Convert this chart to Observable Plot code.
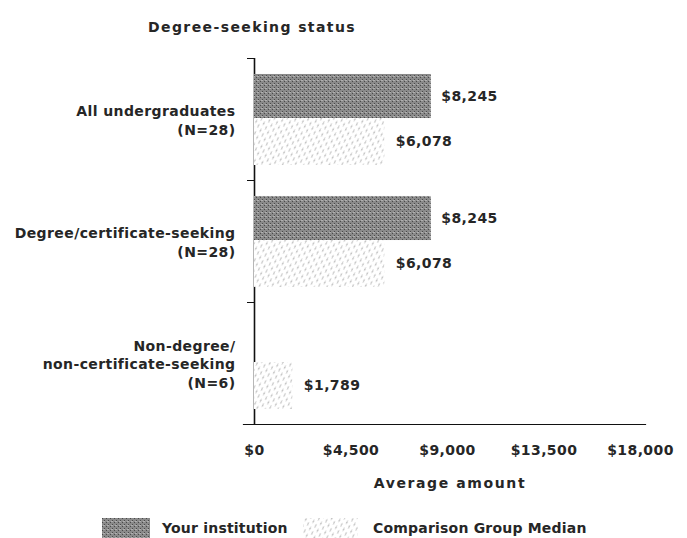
<!DOCTYPE html>
<html><head><meta charset="utf-8">
<script src="https://cdn.jsdelivr.net/npm/d3@7"></script>
<script src="https://cdn.jsdelivr.net/npm/@observablehq/plot@0.6"></script>
<style>
body{margin:0;background:#fff;font-family:"DejaVu Sans",sans-serif;color:#262626;}
#wrap{width:687px;height:538px;position:relative;overflow:hidden;background:#fff}
#title{height:45px;box-sizing:border-box;padding-left:148px;padding-top:18px;font-size:14px;font-weight:bold;letter-spacing:1.4px;line-height:18px}
#chart svg{display:block}
.lg{position:absolute;font-size:14px;font-weight:bold;letter-spacing:0.2px;line-height:20px;top:518px}
.sw{position:absolute;top:518px;height:20px}
</style></head><body>
<div id="wrap">
<div id="title">Degree-seeking status</div>
<div id="chart"></div>
<svg class="sw" style="left:102px" width="48" height="20"><rect width="48" height="20" fill="url(#pInst)"/></svg>
<div class="lg" style="left:162px">Your institution</div>
<svg class="sw" style="left:303px" width="55" height="20"><rect width="55" height="20" fill="url(#pComp)"/></svg>
<div class="lg" style="left:373px">Comparison Group Median</div>
</div>
<script>
const categories = ["All undergraduates", "Degree/certificate-seeking", "Non-degree/\nnon-certificate-seeking"];
const groupCounts = [28, 28, 6];
const institution = [8245, 8245, null];
const comparisonMedian = [6078, 6078, 1789];
const xTicks = [0, 4500, 9000, 13500, 18000];
const xDomain = [0, 18000];
const xTitle = "Average amount";

const money = d => "$" + d3.format(",")(d);
const rows = categories.map((c, i) => ({
  cat: c + "\n(N=" + groupCounts[i] + ")",
  inst: institution[i],
  comp: comparisonMedian[i]
}));

const W = 687, H = 460, mt = 13, mb = 81, ml = 254, mr = 42;
const bw = (H - mt - mb) / categories.length;
const instTop = bw * 0.131, instBottom = bw * 0.508;
const compTop = bw * 0.492, compBottom = bw * 0.123;
const instDy = bw * (0.131 + (1 - 0.131 - 0.508) / 2) - bw / 2;
const compDy = bw * (0.492 + (1 - 0.492 - 0.123) / 2) - bw / 2;

const plot = Plot.plot({
  width: W, height: H,
  marginTop: mt, marginBottom: mb, marginLeft: ml, marginRight: mr,
  style: {fontFamily: "DejaVu Sans", fontSize: "14px", fontWeight: "bold", letterSpacing: "0.4px", color: "#262626", background: "white", overflow: "visible"},
  x: {domain: xDomain, insetRight: 5},
  y: {domain: rows.map(r => r.cat), padding: 0},
  marks: [
    Plot.ruleX([0], {stroke: "#111", strokeWidth: 1.6}),
    Plot.frame({anchor: "bottom", insetLeft: -11, stroke: "#111", strokeWidth: 1.2}),
    Plot.axisY({tickSize: 7, tickFormat: () => "", label: null, dy: -bw / 2, stroke: "#111"}),
    Plot.axisY({tickSize: 0, tickPadding: 19, lineHeight: 1.32, label: null}),
    Plot.axisX({ticks: xTicks, tickSize: 0, tickPadding: 21, tickFormat: money,
      label: xTitle, labelAnchor: "center", labelArrow: "none", labelOffset: 63}),
    Plot.barX(rows.filter(r => r.inst != null), {y: "cat", x: "inst", fill: "url(#pInst)",
      insetTop: instTop, insetBottom: instBottom}),
    Plot.barX(rows, {y: "cat", x: "comp", fill: "url(#pComp)",
      insetTop: compTop, insetBottom: compBottom}),
    Plot.text(rows.filter(r => r.inst != null), {y: "cat", x: "inst", text: d => money(d.inst),
      textAnchor: "start", dx: 10, dy: instDy, fill: "#262626"}),
    Plot.text(rows, {y: "cat", x: "comp", text: d => money(d.comp),
      textAnchor: "start", dx: 11, dy: compDy, fill: "#262626"})
  ]
});
document.getElementById("chart").appendChild(plot);

const svg = d3.select(plot);
svg.selectAll('g[aria-label="x-axis label"]').attr("letter-spacing", "1.6px");
const defs = svg.insert("defs", ":first-child");
const p1 = defs.append("pattern").attr("id", "pInst").attr("width", 4).attr("height", 4)
  .attr("patternUnits", "userSpaceOnUse");
p1.append("rect").attr("width", 4).attr("height", 4).attr("fill", "#8a8a8a");
p1.append("rect").attr("x", 0).attr("y", 0).attr("width", 1).attr("height", 1).attr("fill", "#4a4a4a");
p1.append("rect").attr("x", 2).attr("y", 2).attr("width", 1).attr("height", 1).attr("fill", "#4a4a4a");
p1.append("rect").attr("x", 1).attr("y", 3).attr("width", 2).attr("height", 1).attr("fill", "#b0b0b0");
const p2 = defs.append("pattern").attr("id", "pComp").attr("width", 6).attr("height", 5)
  .attr("patternUnits", "userSpaceOnUse").attr("patternTransform", "rotate(-25)");
p2.append("rect").attr("width", 6).attr("height", 5).attr("fill", "#fff");
p2.append("path").attr("d", "M1 3.5 L3 1.5").attr("stroke", "#8a8a8a").attr("stroke-width", 1);
</script>
</body></html>
